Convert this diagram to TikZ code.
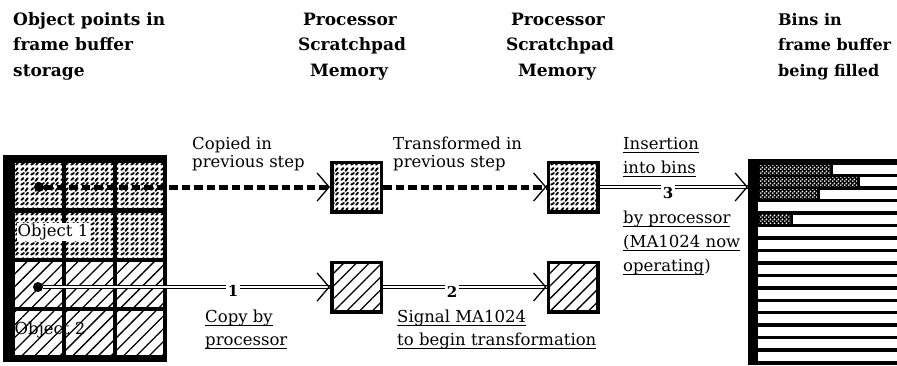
\documentclass[tikz,border=0pt]{standalone}
\usepackage{fontspec}
\setmainfont{DejaVu Serif}
\usetikzlibrary{arrows.meta,patterns,patterns.meta}
\pgfdeclarepatternformonly{squig}{\pgfqpoint{0pt}{0pt}}{\pgfqpoint{10pt}{10pt}}{\pgfqpoint{10pt}{10pt}}{%
 \pgfsetlinewidth{2pt}\pgfsetroundcap
 \pgfpathmoveto{\pgfqpoint{1.3pt}{1.5pt}}\pgfpathcurveto{\pgfqpoint{2.3pt}{3.2pt}}{\pgfqpoint{3.2pt}{1.6pt}}{\pgfqpoint{4.3pt}{3.2pt}}
 \pgfpathmoveto{\pgfqpoint{6.0pt}{5.5pt}}\pgfpathcurveto{\pgfqpoint{7.6pt}{6.0pt}}{\pgfqpoint{6.6pt}{7.8pt}}{\pgfqpoint{8.3pt}{8.5pt}}
 \pgfpathmoveto{\pgfqpoint{1.5pt}{6.6pt}}\pgfpathlineto{\pgfqpoint{3.8pt}{8.6pt}}
 \pgfpathmoveto{\pgfqpoint{6.6pt}{1.3pt}}\pgfpathlineto{\pgfqpoint{8.6pt}{3.5pt}}
 \pgfusepath{stroke}}
\pgfdeclarepatternformonly{wdots}{\pgfqpoint{0pt}{0pt}}{\pgfqpoint{4pt}{4pt}}{\pgfqpoint{4pt}{4pt}}{%
 \pgfpathcircle{\pgfqpoint{1pt}{1pt}}{1.1pt}\pgfpathcircle{\pgfqpoint{3pt}{3pt}}{1.1pt}\pgfusepath{fill}}
\newcommand\ulx[1]{\setbox0=\hbox{#1}\rlap{\rule[-4pt]{\wd0}{1.2pt}}\box0}
\tikzset{
 hdr/.style={font=\fontsize{17}{20}\selectfont\bfseries, inner sep=0pt},
 hdrs/.style={font=\fontsize{16}{20}\selectfont\bfseries, inner sep=0pt},
 lbl/.style={font=\fontsize{16.5}{19}\selectfont, inner sep=0pt, anchor=base west},
 objl/.style={font=\fontsize{16.5}{18}\selectfont, inner sep=1pt},
 num/.style={font=\fontsize{15}{18}\selectfont\bfseries, fill=white, inner sep=2pt},
 boxbase/.style={draw=black, line width=3.5pt, minimum size=49.5pt, inner sep=0pt},
 squigbox/.style={boxbase, preaction={fill=white}, pattern=squig},
 hatchbox/.style={boxbase, preaction={fill=white}, pattern={Lines[angle=45,distance=9pt,line width=1.3pt]}},
 hatchfill/.style={pattern={Lines[angle=45,distance=9pt,line width=1.3pt]}},
 dotnode/.style={circle, fill=black, inner sep=0pt, minimum size=10pt},
 dashconn/.style={line width=5pt, dash pattern=on 8.5pt off 4pt},
 dblconn/.style={double, double distance=2.4pt, line width=1.2pt},
 barb/.style={line width=1.3pt, -{Straight Barb[length=12pt, width=28pt]}}
}
\begin{document}
\begin{tikzpicture}[x=1pt,y=-1pt]
\useasboundingbox (0,0) rectangle (897,365);
% left grid
\fill[black] (3,155) rectangle (167,362);
\foreach \xa/\xb in {15/62,66/113,117/163}{
  \foreach \ya/\yb in {163/208,213/258}{
    \fill[white] (\xa,\ya) rectangle (\xb,\yb);
    \fill[pattern=squig] (\xa,\ya) rectangle (\xb,\yb);
  }
  \foreach \ya/\yb in {262/307,311/355}{
    \fill[white] (\xa,\ya) rectangle (\xb,\yb);
    \fill[hatchfill] (\xa,\ya) rectangle (\xb,\yb);
  }
}
\node[objl, fill=white] (obj1) at (53,232) {Object 1};
\node[objl] (obj2) at (50,330) {Object 2};
\node[dotnode] (dot1) at (39,187) {};
\node[dotnode] (dot2) at (38,287) {};
% scratchpad boxes
\node[squigbox] (box1) at (356.5,187) {};
\node[hatchbox] (box2) at (356.5,287) {};
\node[squigbox] (box3) at (573,187) {};
\node[hatchbox] (box4) at (573,287) {};
% bins panel
\node[fill=black, inner sep=0pt, anchor=north west, minimum width=149pt, minimum height=206pt] (bins) at (748,159) {};
\foreach \k in {0,...,15}{
  \fill[white] (758,{165+12.45*\k}) rectangle (897,{174+12.45*\k});
}
\foreach \k/\xe in {0/830,1/857,2/817,4/790}{
  \fill[black] (758,{164.5+12.45*\k}) rectangle ({\xe+2.5},{174.5+12.45*\k});
  \fill[pattern=wdots, pattern color=white] (759,{165+12.45*\k}) rectangle (\xe,{174+12.45*\k});
}
\coordinate (binin) at (box3.east -| bins.west);
% connectors
\draw[dashconn] (dot1) -- (box1.west);
\draw[barb] ([xshift=-2pt]box1.west) -- (box1.west);
\draw[dashconn] (box1.east) -- (box3.west);
\draw[barb] ([xshift=-2pt]box3.west) -- (box3.west);
\draw[dblconn] (box3.east) -- (binin);
\draw[barb] ([xshift=-2pt]binin) -- (binin);
\draw[dblconn] (dot2) -- (box2.west);
\draw[barb] ([xshift=-2pt]box2.west) -- (box2.west);
\draw[dblconn] (box2.east) -- (box4.west);
\draw[barb] ([xshift=-2pt]box4.west) -- (box4.west);
\node[num] (n1) at (233,291) {1};
\node[num] (n2) at (452,292) {2};
\node[num] (n3) at (668,193) {3};
% headers
\node[hdr, anchor=base west] (ha1) at (13,25) {Object points in};
\node[hdr, anchor=base west] (ha2) at (13,50.5) {frame buffer};
\node[hdr, anchor=base west] (ha3) at (13,76) {storage};
\node[hdr, anchor=base] (hb1) at (350,25) {Processor};
\node[hdr, anchor=base] (hb2) at (352,50.5) {Scratchpad};
\node[hdr, anchor=base] (hb3) at (349,76) {Memory};
\node[hdr, anchor=base] (hc1) at (558,25) {Processor};
\node[hdr, anchor=base] (hc2) at (560,50.5) {Scratchpad};
\node[hdr, anchor=base] (hc3) at (557,76) {Memory};
\node[hdrs, anchor=base west] (hd1) at (778,25) {Bins in};
\node[hdrs, anchor=base west] (hd2) at (778,50.5) {frame buffer};
\node[hdrs, anchor=base west] (hd3) at (778,76) {being filled};
% labels
\node[lbl] (cpa) at (192,149) {Copied in};
\node[lbl] (cpb) at (192,167) {previous step};
\node[lbl] (tra) at (393,149) {Transformed in};
\node[lbl] (trb) at (393,167) {previous step};
\node[lbl] (ina) at (623,149) {\ulx{Insertion}};
\node[lbl] (inb) at (623,173) {\ulx{into bins}};
\node[lbl] (inc) at (623,223) {\ulx{by processor}};
\node[lbl] (ind) at (623,247) {\ulx{(MA1024 now}};
\node[lbl] (ine) at (623,271) {\ulx{operating})};
\node[lbl] (cya) at (205,322) {\ulx{Copy by}};
\node[lbl] (cyb) at (205,345) {\ulx{processor}};
\node[lbl] (sga) at (397,322) {\ulx{Signal MA1024}};
\node[lbl] (sgb) at (397,345) {\ulx{to begin transformation}};
\end{tikzpicture}
\end{document}
